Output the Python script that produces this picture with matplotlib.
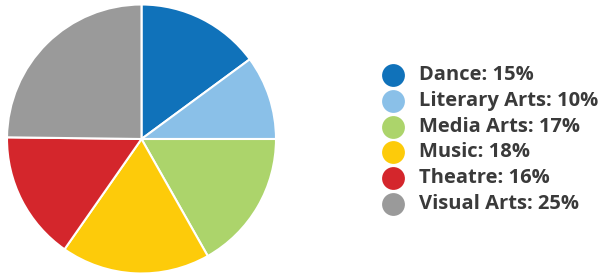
import matplotlib
matplotlib.use("Agg")
import matplotlib.pyplot as plt

# Arts disciplines share (slice sizes; labels show rounded %)
categories = ["Dance", "Literary Arts", "Media Arts", "Music", "Theatre", "Visual Arts"]
shares = [14.9, 10.1, 16.8, 17.9, 15.5, 24.8]
label_pct = [15, 10, 17, 18, 16, 25]
colors = ["#1072BA", "#8AC0E8", "#ACD46B", "#FDCB0A", "#D4262C", "#9A9A9A"]

W, H = 600, 276
fig = plt.figure(figsize=(W / 100, H / 100), dpi=100)

# --- pie ---
cx, cy, r = 141.5, 139.0, 134.5
ax = fig.add_axes([(cx - r) / W, (H - cy - r) / H, 2 * r / W, 2 * r / H])
ax.pie(shares, colors=colors, startangle=90, counterclock=False,
       wedgeprops=dict(edgecolor="white", linewidth=1.5))
ax.set_xlim(-1, 1)
ax.set_ylim(-1, 1)
ax.set_aspect("auto")
ax.axis("off")

# --- legend (drawn in pixel space) ---
lg = fig.add_axes([0, 0, 1, 1])
lg.set_xlim(0, W)
lg.set_ylim(H, 0)
lg.axis("off")
y0, dy = 75.0, 25.8
for i, (name, pct, col) in enumerate(zip(categories, label_pct, colors)):
    y = y0 + i * dy
    lg.scatter([393], [y], s=270, color=col, linewidths=0)
    lg.text(419, y, f"{name}: {pct}%", fontsize=14.5, fontweight="bold",
            family="Open Sans", color="#3a3a3a", va="center", ha="left")

fig.savefig("out.png", dpi=100)
